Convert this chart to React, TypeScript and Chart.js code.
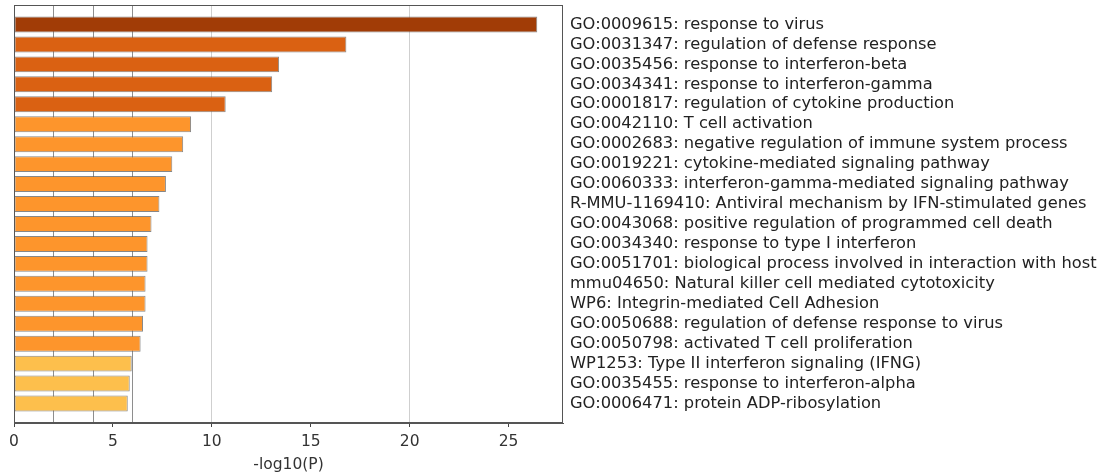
import React, { useEffect, useRef } from "react";
import { Chart, registerables } from "chart.js";

Chart.register(...registerables);

// ---- data ----
const terms: string[] = [
  "GO:0009615: response to virus",
  "GO:0031347: regulation of defense response",
  "GO:0035456: response to interferon-beta",
  "GO:0034341: response to interferon-gamma",
  "GO:0001817: regulation of cytokine production",
  "GO:0042110: T cell activation",
  "GO:0002683: negative regulation of immune system process",
  "GO:0019221: cytokine-mediated signaling pathway",
  "GO:0060333: interferon-gamma-mediated signaling pathway",
  "R-MMU-1169410: Antiviral mechanism by IFN-stimulated genes",
  "GO:0043068: positive regulation of programmed cell death",
  "GO:0034340: response to type I interferon",
  "GO:0051701: biological process involved in interaction with host",
  "mmu04650: Natural killer cell mediated cytotoxicity",
  "WP6: Integrin-mediated Cell Adhesion",
  "GO:0050688: regulation of defense response to virus",
  "GO:0050798: activated T cell proliferation",
  "WP1253: Type II interferon signaling (IFNG)",
  "GO:0035455: response to interferon-alpha",
  "GO:0006471: protein ADP-ribosylation",
];

const logP: number[] = [
  26.45, 16.8, 13.4, 13.05, 10.7, 8.95, 8.55, 8.0, 7.68, 7.35,
  6.95, 6.75, 6.75, 6.65, 6.65, 6.52, 6.4, 5.95, 5.85, 5.75,
];

// p-value bin of each term (selects the colour)
const pBin: number[] = [0, 1, 1, 1, 1, 2, 2, 2, 2, 2, 2, 2, 2, 2, 2, 2, 2, 3, 3, 3];

const xTickLabels: number[] = [0, 5, 10, 15, 20, 25];
const thresholdLines: number[] = [2, 4, 6];
const gridLines: number[] = [10, 20];

// ---- styles ----
const binColors = ["#a13c06", "#da6112", "#fd952c", "#fdbf4c"];
const FONT = "'DejaVu Sans', sans-serif";

const framePlugin = {
  id: "frame",
  afterDraw(chart: any) {
    const { ctx, chartArea } = chart;
    ctx.save();
    ctx.strokeStyle = "#555";
    ctx.lineWidth = 1;
    const l = Math.round(chartArea.left) + 0.5;
    const t = Math.round(chartArea.top) + 0.5;
    const r = Math.round(chartArea.right) - 0.5;
    const b = Math.round(chartArea.bottom) - 0.5;
    ctx.strokeRect(l, t, r - l, b - t);
    ctx.restore();
  },
};

export default function App() {
  const ref = useRef<HTMLCanvasElement | null>(null);

  useEffect(() => {
    if (!ref.current) return;
    const allX = Array.from(new Set([...xTickLabels, ...thresholdLines, ...gridLines])).sort((a, b) => a - b);
    const chart = new Chart(ref.current, {
      type: "bar",
      data: {
        datasets: [
          {
            data: logP.map((v, i) => ({ x: v, y: i })),
            backgroundColor: logP.map((_, i) => binColors[pBin[i]]),
            borderColor: "rgba(95,95,95,0.75)",
            borderWidth: 1,
            borderSkipped: false,
            barPercentage: 0.8,
            categoryPercentage: 1,
          } as any,
        ],
      },
      options: {
        animation: false,
        responsive: true,
        maintainAspectRatio: false,
        indexAxis: "y",
        layout: { padding: { left: 14, top: 5, right: 0, bottom: 0 } },
        plugins: { legend: { display: false }, tooltip: { enabled: false } },
        events: [],
        scales: {
          x: {
            type: "linear",
            position: "bottom",
            min: 0,
            max: 27.75,
            offset: false,
            z: 1,
            afterBuildTicks: (s: any) => {
              s.ticks = allX.map((v) => ({ value: v }));
            },
            afterFit: (s: any) => {
              s.height = 53;
              s.paddingLeft = 0;
              s.paddingRight = 0;
            },
            grid: {
              drawOnChartArea: true,
              offset: false,
              lineWidth: 1,
              tickLength: 4,
              color: (c: any) => {
                const v = c.tick ? c.tick.value : null;
                if (thresholdLines.includes(v)) return "rgba(50,50,50,0.55)";
                if (gridLines.includes(v)) return "rgba(140,140,140,0.42)";
                return "rgba(0,0,0,0)";
              },
              tickColor: (c: any) => {
                const v = c.tick ? c.tick.value : null;
                return xTickLabels.includes(v) ? "#444" : "rgba(0,0,0,0)";
              },
            },
            border: { display: true, color: "#555" },
            ticks: {
              autoSkip: false,
              maxRotation: 0,
              padding: 6,
              color: "#333",
              font: { family: FONT, size: 15.5 },
              callback: (v: any) => (xTickLabels.includes(v) ? String(v) : ""),
            },
            title: {
              display: true,
              text: "-log10(P)",
              color: "#333",
              font: { family: FONT, size: 15.5 },
              padding: { top: 0, bottom: 2 },
            },
          },
          y: {
            type: "linear",
            position: "right",
            reverse: true,
            min: -0.975,
            max: 19.975,
            offset: false,
            afterBuildTicks: (s: any) => {
              s.ticks = terms.map((_, i) => ({ value: i }));
            },
            afterFit: (s: any) => {
              s.width = 546;
              s.paddingTop = 0;
              s.paddingBottom = 0;
            },
            grid: { display: false, drawTicks: false, offset: false },
            border: { display: false },
            ticks: {
              autoSkip: false,
              padding: 7,
              color: "#222",
              font: { family: FONT, size: 16.3 },
              callback: (v: any) => terms[v] ?? "",
            },
          },
        },
      } as any,
      plugins: [framePlugin],
    });
    return () => chart.destroy();
  }, []);

  return (
    <div style={{ position: "absolute", left: 0, top: 0, width: 1109, height: 476 }}>
      <canvas ref={ref} />
    </div>
  );
}
